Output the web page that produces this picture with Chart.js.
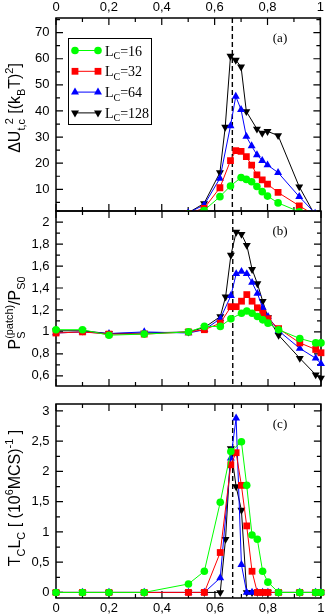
<!DOCTYPE html>
<html>
<head>
<meta charset="utf-8">
<script src="https://cdn.jsdelivr.net/npm/chart.js@4/dist/chart.umd.min.js"></script>
<style>
  body { margin: 0; background: #fff; }
  canvas { position: absolute; left: 0; top: 0; }
</style>
</head>
<body>
<canvas id="pa" width="327" height="616"></canvas>
<canvas id="pb" width="327" height="616"></canvas>
<canvas id="pc" width="327" height="616"></canvas>
<script>
// tick values
const xTicks = [0, 0.2, 0.4, 0.6, 0.8, 1];
const yTicksA = [10, 20, 30, 40, 50, 60, 70];
const yTicksB = [0.6, 0.8, 1, 1.2, 1.4, 1.6, 1.8, 2];
const yTicksC = [0, 0.5, 1, 1.5, 2, 2.5, 3];
const legendSizes = ['16', '32', '64', '128'];
const criticalX = 0.667;

// panel (a): Delta U^2
const xA16 = [0.5, 0.56, 0.62, 0.66, 0.70, 0.72, 0.74, 0.76, 0.78, 0.80, 0.84, 0.92];
const yA16 = [0.6, 1.9, 7.2, 11.3, 14.5, 13.8, 12.9, 11.1, 9.1, 7.4, 4.8, 1.4];
const xA32 = [0.5, 0.56, 0.62, 0.66, 0.68, 0.70, 0.72, 0.74, 0.76, 0.78, 0.80, 0.84, 0.92, 0.98];
const yA32 = [0.8, 2.7, 10.6, 21, 24.8, 24.5, 22.5, 19.3, 15.5, 13.6, 12, 8.8, 3.7, 0];
const xA64 = [0.5, 0.56, 0.62, 0.66, 0.68, 0.70, 0.72, 0.74, 0.76, 0.78, 0.80, 0.84, 0.92, 0.98];
const yA64 = [1.0, 4.0, 14.2, 34.3, 45.6, 40.5, 30.2, 26.6, 23.2, 21, 19.3, 16.4, 7.2, 0.8];
const xA128 = [0.5, 0.56, 0.62, 0.64, 0.66, 0.68, 0.70, 0.72, 0.76, 0.78, 0.80, 0.84, 0.92, 0.98];
const yA128 = [1.0, 4.6, 16.4, 33.8, 61, 59.5, 56.9, 39.8, 33.1, 31.5, 32.2, 30.6, 11, 0];

// panels (b) and (c) share these x grids
const xFull = [0, 0.1, 0.2, 0.333, 0.5, 0.56, 0.62, 0.66, 0.68, 0.70, 0.72, 0.74, 0.76, 0.78, 0.80, 0.84, 0.92, 0.98, 1.0];
const x16 = [0, 0.1, 0.2, 0.333, 0.5, 0.56, 0.62, 0.66, 0.70, 0.72, 0.74, 0.76, 0.78, 0.80, 0.84, 0.92, 0.98, 1.0];
const x128 = [0, 0.1, 0.2, 0.333, 0.5, 0.56, 0.62, 0.64, 0.66, 0.68, 0.70, 0.72, 0.74, 0.76, 0.78, 0.80, 0.84, 0.92, 0.98, 1.0];

// panel (b): P_S(patch)/P_S0
const yB16 = [1.02, 1.02, 0.97, 0.98, 1.0, 1.05, 1.05, 1.12, 1.17, 1.19, 1.17, 1.14, 1.11, 1.08, 1.02, 0.94, 0.90, 0.90];
const yB32 = [0.99, 1.0, 0.98, 0.98, 1.0, 1.02, 1.08, 1.23, 1.23, 1.28, 1.34, 1.28, 1.22, 1.17, 1.12, 1.03, 0.90, 0.84, 0.81];
const yB64 = [0.99, 1.0, 0.985, 1.0, 0.99, 1.02, 1.12, 1.33, 1.53, 1.55, 1.53, 1.45, 1.35, 1.22, 1.14, 1.01, 0.85, 0.76, 0.71];
const yB128 = [1.01, 1.01, 0.985, 0.99, 1.0, 1.04, 1.14, 1.32, 1.70, 1.91, 1.89, 1.79, 1.57, 1.44, 1.28, 1.13, 0.97, 0.76, 0.61, 0.58];

// panel (c): T_C L_C
const yC16 = [0, 0, 0, 0, 0.14, 0.35, 1.49, 2.33, 2.49, 1.77, 0.95, 0.88, 0.35, 0.17, 0, 0, 0, 0];
const yC32 = [0, 0, 0, 0, 0, 0, 0.66, 2.11, 2.31, 1.77, 1.10, 0.35, 0, 0, 0, 0, 0, 0, 0];
const yC64 = [0, 0, 0, 0, 0, 0, 0.24, 2.22, 2.88, 0.46, 0, 0, 0, 0, 0, 0, 0, 0, 0];
const yC128 = [0, 0, 0, 0, 0, 0, 0, 0.88, 2.38, 1.75, 1.36, 0, 0, 0, 0, 0, 0, 0, 0, 0];

// styles
const colors = ['#00ff00', '#ff0000', '#0000ff', '#000000'];
const shapes = ['circle', 'rect', 'triangle', 'triangle'];
const turns = [0, 0, 0, 180];
const radii = [3.8, 4.8, 4.6, 4.6];

const sans = '"Liberation Sans", Arial, sans-serif';
const serif = '"Liberation Serif", "Times New Roman", serif';

const pts = (xs, ys) => xs.map((x, i) => ({ x: x, y: ys[i] }));
const fmt = v => String(Math.round(v * 100) / 100).replace('.', ',');

function steps(min, max, step) {
  const out = [];
  for (let k = Math.ceil(min / step - 1e-9); k * step <= max + 1e-9; k++) out.push(k * step);
  return out;
}

function marker(ctx, i, x, y) {
  const r = radii[i];
  ctx.beginPath();
  if (shapes[i] === 'circle') {
    ctx.arc(x, y, r, 0, Math.PI * 2);
  } else if (shapes[i] === 'rect') {
    const s = r * Math.SQRT1_2;
    ctx.rect(x - s, y - s, 2 * s, 2 * s);
  } else {
    let a = turns[i] * Math.PI / 180;
    ctx.moveTo(x + Math.sin(a) * r, y - Math.cos(a) * r);
    a += 2 * Math.PI / 3;
    ctx.lineTo(x + Math.sin(a) * r, y - Math.cos(a) * r);
    a += 2 * Math.PI / 3;
    ctx.lineTo(x + Math.sin(a) * r, y - Math.cos(a) * r);
    ctx.closePath();
  }
  ctx.fill();
}

// rotated label with sub/superscripts
function drawRotated(ctx, parts, bx, cy, size) {
  const small = size * 0.68;
  const items = [];
  let pos = 0, lastStart = 0, lastW = 0;
  parts.forEach(([t, k]) => {
    const fs = k === 'n' ? size : small;
    ctx.font = fs + 'px ' + sans;
    const w = ctx.measureText(t).width;
    if (k === 'supS' || k === 'supE') {
      const x0 = k === 'supS' ? lastStart : lastStart + lastW * 0.55;
      items.push({ t, fs, dy: -size * 0.45, x: x0 });
      pos = Math.max(pos, x0 + w);
    } else {
      const dy = k === 'sub' ? size * 0.3 : k === 'sup' ? -size * 0.45 : 0;
      items.push({ t, fs, dy, x: pos });
      lastStart = pos; lastW = w; pos += w;
    }
  });
  ctx.save();
  ctx.translate(bx, cy);
  ctx.rotate(-Math.PI / 2);
  ctx.fillStyle = '#000';
  ctx.textBaseline = 'alphabetic';
  items.forEach(it => {
    ctx.font = it.fs + 'px ' + sans;
    ctx.fillText(it.t, it.x - pos / 2, it.dy);
  });
  ctx.restore();
}

const gracePlugin = {
  id: 'grace',
  beforeDatasetsDraw(chart) {
    const o = chart.options.plugins.grace;
    const ctx = chart.ctx, a = chart.chartArea, x = chart.scales.x, y = chart.scales.y;
    ctx.save();
    ctx.strokeStyle = '#000';
    // dashed critical line
    const px = x.getPixelForValue(criticalX);
    ctx.lineWidth = 1.4;
    ctx.setLineDash([5, 3]);
    ctx.beginPath(); ctx.moveTo(px, a.top); ctx.lineTo(px, a.bottom); ctx.stroke();
    ctx.setLineDash([]);
    // inward ticks
    ctx.lineWidth = 1.2;
    ctx.beginPath();
    const xt = (v, len) => {
      const p = x.getPixelForValue(v);
      ctx.moveTo(p, a.bottom); ctx.lineTo(p, a.bottom - len);
      ctx.moveTo(p, a.top); ctx.lineTo(p, a.top + len);
    };
    const yt = (v, len) => {
      const p = y.getPixelForValue(v);
      ctx.moveTo(a.left, p); ctx.lineTo(a.left + len, p);
      ctx.moveTo(a.right, p); ctx.lineTo(a.right - len, p);
    };
    steps(0, 1, 0.1).forEach(v => xt(v, 4));
    xTicks.forEach(v => xt(v, 7));
    steps(y.min, y.max, o.yMinor).forEach(v => yt(v, 4));
    o.yTicks.forEach(v => yt(v, 7));
    ctx.stroke();
    // frame
    ctx.lineWidth = 1.5;
    ctx.strokeRect(a.left, a.top, a.right - a.left, a.bottom - a.top);
    ctx.restore();
  },
  afterDraw(chart) {
    const o = chart.options.plugins.grace;
    const ctx = chart.ctx, a = chart.chartArea;
    ctx.save();
    ctx.fillStyle = '#000';
    ctx.font = '13px ' + serif;
    ctx.textAlign = 'center';
    ctx.textBaseline = 'middle';
    ctx.fillText(o.tag, 280, a.top + 21);
    ctx.restore();
    drawRotated(ctx, o.label, 20, o.labelY, 16);
    if (o.legend) {
      ctx.save();
      ctx.fillStyle = '#fff';
      ctx.fillRect(68.5, 38.5, 83, 86);
      ctx.strokeStyle = '#000';
      ctx.lineWidth = 1;
      ctx.strokeRect(68.5, 38.5, 83, 86);
      chart.data.datasets.forEach((ds, i) => {
        const ly = 50.5 + i * 20.8;
        ctx.strokeStyle = colors[i];
        ctx.fillStyle = colors[i];
        ctx.beginPath(); ctx.moveTo(75, ly); ctx.lineTo(98, ly); ctx.stroke();
        marker(ctx, i, 75, ly);
        marker(ctx, i, 98, ly);
        ctx.fillStyle = '#000';
        ctx.textBaseline = 'alphabetic';
        ctx.font = '14px ' + serif;
        const base = ly + 5;
        ctx.fillText('L', 105, base);
        const wl = ctx.measureText('L').width;
        ctx.font = '10px ' + serif;
        ctx.fillText('C', 105 + wl, base + 3.5);
        const wc = ctx.measureText('C').width;
        ctx.font = '14px ' + serif;
        ctx.fillText('=' + legendSizes[i], 105 + wl + wc, base);
      });
      ctx.restore();
    }
  }
};

function makeSets(list) {
  return list.map((d, i) => ({
    label: 'L_C=' + legendSizes[i],
    data: d,
    borderColor: colors[i],
    backgroundColor: colors[i],
    borderWidth: 1,
    pointStyle: shapes[i],
    rotation: turns[i],
    pointRadius: radii[i],
    pointBorderWidth: 0,
    pointBackgroundColor: colors[i],
    tension: 0,
    clip: { left: 8, right: 8, top: 0, bottom: 0 }
  }));
}

function makeChart(id, sets, cfg) {
  return new Chart(document.getElementById(id), {
    type: 'line',
    data: { datasets: makeSets(sets) },
    options: {
      responsive: false,
      animation: false,
      layout: { padding: { left: 0, right: 6, top: cfg.padTop, bottom: cfg.padBottom } },
      plugins: {
        legend: { display: false },
        tooltip: { enabled: false },
        grace: cfg.grace
      },
      scales: {
        x: {
          type: 'linear', min: 0, max: 1,
          display: cfg.xPos !== 'none',
          position: cfg.xPos === 'top' ? 'top' : 'bottom',
          grid: { display: false, drawTicks: false },
          border: { display: false },
          ticks: {
            color: '#000', font: { family: sans, size: 13 },
            padding: cfg.xPos === 'top' ? 3 : 2.5,
            maxRotation: 0, autoSkip: false, callback: fmt
          },
          afterBuildTicks: s => { s.ticks = xTicks.map(v => ({ value: v })); },
          afterFit: s => { s.height = 18; }
        },
        y: {
          type: 'linear', min: cfg.yMin, max: cfg.yMax,
          grid: { display: false, drawTicks: false },
          border: { display: false },
          ticks: {
            color: '#000', font: { family: sans, size: 13 },
            padding: 6.5, autoSkip: false, callback: fmt
          },
          afterBuildTicks: s => { s.ticks = cfg.grace.yTicks.map(v => ({ value: v })); },
          afterFit: s => { s.width = 56; }
        }
      }
    },
    plugins: [gracePlugin]
  });
}

makeChart('pa', [pts(xA16, yA16), pts(xA32, yA32), pts(xA64, yA64), pts(xA128, yA128)], {
  padTop: 0, padBottom: 405, xPos: 'top', yMin: 1.7, yMax: 75.6,
  grace: {
    yTicks: yTicksA, yMinor: 5, tag: '(a)', legend: true, labelY: 108,
    label: [['ΔU', 'n'], ['t,c', 'sub'], ['2', 'supE'], [' [(k', 'n'], ['B', 'sub'], ['T)', 'n'], ['2', 'sup'], [']', 'n']]
  }
});

makeChart('pb', [pts(x16, yB16), pts(xFull, yB32), pts(xFull, yB64), pts(x128, yB128)], {
  padTop: 211, padBottom: 212, xPos: 'none', yMin: 0.507, yMax: 2.102,
  grace: {
    yTicks: yTicksB, yMinor: 0.1, tag: '(b)', legend: false, labelY: 313,
    label: [['P', 'n'], ['S', 'sub'], ['(patch)', 'supS'], ['/P', 'n'], ['S0', 'sub']]
  }
});

makeChart('pc', [pts(x16, yC16), pts(xFull, yC32), pts(xFull, yC64), pts(x128, yC128)], {
  padTop: 404, padBottom: 0, xPos: 'bottom', yMin: -0.092, yMax: 3.115,
  grace: {
    yTicks: yTicksC, yMinor: 0.25, tag: '(c)', legend: false, labelY: 498,
    label: [['T', 'n'], ['C', 'sub'], ['L', 'n'], ['C', 'sub'], [' [ (10', 'n'], ['6', 'sup'], ['MCS)', 'n'], ['-1', 'sup'], [' ]', 'n']]
  }
});
</script>
</body>
</html>
